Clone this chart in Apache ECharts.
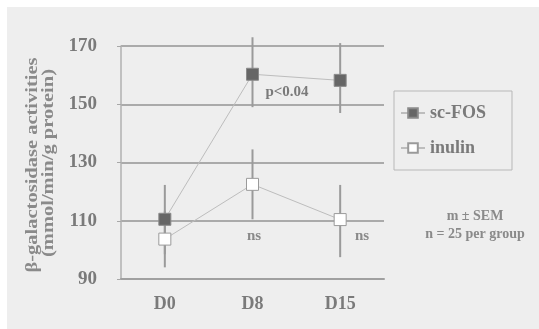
<!DOCTYPE html>
<html><head><meta charset="utf-8">
<script src="https://cdn.jsdelivr.net/npm/echarts@6/dist/echarts.min.js"></script>
<style>html,body{margin:0;padding:0;background:#fff}#c{width:539px;height:329px}</style>
</head><body><div id="c"></div>
<script>
const categories = ['D0', 'D8', 'D15'];
const fosMean = [110.5, 160.3, 158.2];
const fosLow = [98.5, 149, 147];
const fosHigh = [122.3, 173, 171];
const inulinMean = [103.7, 122.5, 110.4];
const inulinLow = [94, 110.5, 97.5];
const inulinHigh = [113.5, 134.5, 122.3];
const yTicks = [90, 110, 130, 150, 170];

const FONT = '"Liberation Serif", "Times New Roman", serif';
const chart = echarts.init(document.getElementById('c'), null, {renderer: 'canvas'});

function errSeries(low, high, z) {
  return {
    type: 'custom', z: z, silent: true,
    data: categories.map((c, i) => [i, low[i], high[i]]),
    renderItem: function (params, api) {
      const a = api.coord([api.value(0), api.value(1)]);
      const b = api.coord([api.value(0), api.value(2)]);
      return {type: 'line', shape: {x1: a[0], y1: a[1], x2: b[0], y2: b[1]},
        style: {stroke: '#9a9a9a', lineWidth: 2}};
    }
  };
}

chart.setOption({
  backgroundColor: '#eeeeee',
  animation: false,
  grid: {left: 121, right: 155, top: 46, bottom: 50},
  xAxis: {
    type: 'category', data: categories, boundaryGap: true,
    axisLine: {lineStyle: {color: '#a0a0a0', width: 2}},
    axisTick: {length: 7, lineStyle: {color: '#a8a8a8', width: 1}},
    axisLabel: {fontFamily: FONT, fontWeight: 'bold', fontSize: 18, color: '#7a7a7a', margin: 16}
  },
  yAxis: {
    type: 'value', min: yTicks[0], max: yTicks[yTicks.length - 1], interval: 20,
    axisLine: {show: true, lineStyle: {color: '#b0b0b0', width: 1.5}},
    axisTick: {show: true, length: 4, lineStyle: {color: '#a8a8a8'}},
    splitLine: {show: true, lineStyle: {color: '#aaaaaa', width: 2}},
    axisLabel: {fontFamily: FONT, fontWeight: 'bold', fontSize: 19, color: '#7a7a7a', margin: 24}
  },
  legend: {
    orient: 'vertical', left: 394, top: 91,
    data: ['sc-FOS', 'inulin'],
    borderColor: '#b8b8b8', borderWidth: 1,
    padding: [13, 26, 13, 6], itemGap: 17,
    itemWidth: 24, itemHeight: 12,
    textStyle: {fontFamily: FONT, fontWeight: 'bold', fontSize: 18, color: '#7a7a7a'}
  },
  graphic: [
    {type: 'rect', shape: {x: 0, y: 0, width: 539, height: 7}, style: {fill: '#fff'}},
    {type: 'rect', shape: {x: 0, y: 0, width: 7, height: 329}, style: {fill: '#fff'}},
    {type: 'text', x: 33, y: 165, rotation: Math.PI / 2, scaleX: 1.28,
      style: {text: 'β-galactosidase activities', fontFamily: FONT, fontWeight: 'bold', fontSize: 16, fill: '#8a8a8a', align: 'center', verticalAlign: 'middle'}},
    {type: 'text', x: 49, y: 163, rotation: Math.PI / 2, scaleX: 1.28,
      style: {text: '(mmol/min/g protein)', fontFamily: FONT, fontWeight: 'bold', fontSize: 16, fill: '#8a8a8a', align: 'center', verticalAlign: 'middle'}},
    {type: 'text', x: 287, y: 92,
      style: {text: 'p<0.04', fontFamily: FONT, fontWeight: 'bold', fontSize: 15, fill: '#7a7a7a', align: 'center', verticalAlign: 'middle'}},
    {type: 'text', x: 254, y: 236,
      style: {text: 'ns', fontFamily: FONT, fontWeight: 'bold', fontSize: 15, fill: '#8a8a8a', align: 'center', verticalAlign: 'middle'}},
    {type: 'text', x: 362, y: 236,
      style: {text: 'ns', fontFamily: FONT, fontWeight: 'bold', fontSize: 15, fill: '#8a8a8a', align: 'center', verticalAlign: 'middle'}},
    {type: 'text', x: 475, y: 216,
      style: {text: 'm ± SEM', fontFamily: FONT, fontWeight: 'bold', fontSize: 14, fill: '#8a8a8a', align: 'center', verticalAlign: 'middle'}},
    {type: 'text', x: 475, y: 234,
      style: {text: 'n = 25 per group', fontFamily: FONT, fontWeight: 'bold', fontSize: 14, fill: '#8a8a8a', align: 'center', verticalAlign: 'middle'}}
  ],
  series: [
    errSeries(fosLow, fosHigh, 2),
    errSeries(inulinLow, inulinHigh, 2),
    {
      name: 'sc-FOS', type: 'line', data: fosMean, z: 5,
      symbol: 'rect', symbolSize: 12,
      lineStyle: {color: '#bdbdbd', width: 1},
      itemStyle: {color: '#666666', borderColor: '#8a8a8a', borderWidth: 1}
    },
    {
      name: 'inulin', type: 'line', data: inulinMean, z: 4,
      symbol: 'rect', symbolSize: 12,
      lineStyle: {color: '#bdbdbd', width: 1},
      itemStyle: {color: '#ffffff', borderColor: '#9a9a9a', borderWidth: 1}
    }
  ]
});
</script></body></html>
